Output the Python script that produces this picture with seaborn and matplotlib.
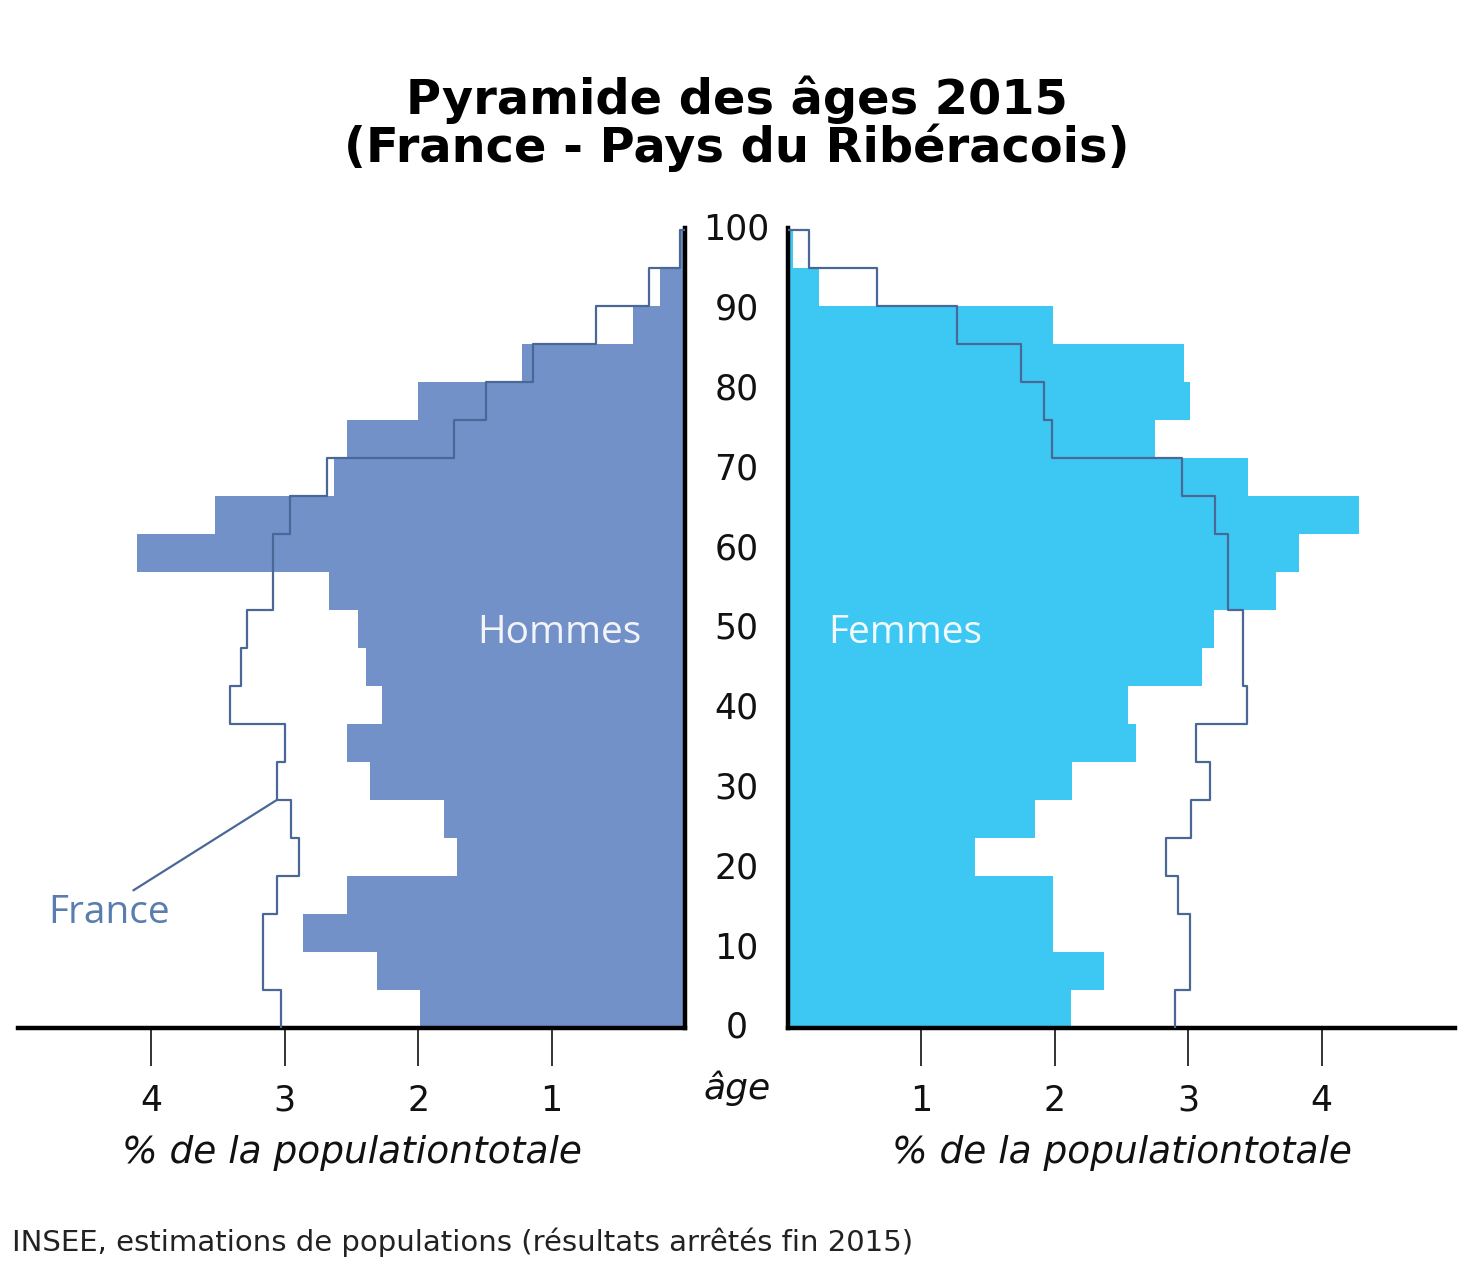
import numpy as np
import pandas as pd
import matplotlib
matplotlib.use("Agg")
import matplotlib.pyplot as plt
import seaborn as sns

# ---------------- data ----------------
age_groups = ["0-4", "5-9", "10-14", "15-19", "20-24", "25-29", "30-34", "35-39",
              "40-44", "45-49", "50-54", "55-59", "60-64", "65-69", "70-74",
              "75-79", "80-84", "85-89", "90-94", "95-99", "100+"]
hommes_riberacois = [1.99, 2.31, 2.86, 2.53, 1.71, 1.81, 2.36, 2.53, 2.27, 2.39, 2.45,
                     2.67, 4.11, 3.52, 2.63, 2.53, 2.00, 1.22, 0.39, 0.19, 0.04]
hommes_france = [3.03, 3.16, 3.16, 3.06, 2.89, 2.95, 3.06, 3.00, 3.41, 3.33, 3.28,
                 3.09, 3.09, 2.96, 2.68, 1.73, 1.49, 1.14, 0.67, 0.27, 0.04]
femmes_riberacois = [2.12, 2.37, 1.99, 1.99, 1.40, 1.85, 2.13, 2.61, 2.55, 3.10, 3.19,
                     3.66, 3.83, 4.28, 3.45, 2.75, 3.01, 2.97, 1.99, 0.23, 0.04]
femmes_france = [2.90, 3.01, 3.01, 2.92, 2.83, 3.02, 3.16, 3.06, 3.44, 3.41, 3.41,
                 3.30, 3.30, 3.20, 2.95, 1.98, 1.92, 1.75, 1.27, 0.67, 0.16]
age_ticks = [0, 10, 20, 30, 40, 50, 60, 70, 80, 90, 100]
pct_ticks = [1, 2, 3, 4]

# ---------------- style ----------------
sns.set_style("white")
plt.rcParams["font.family"] = ["DejaVu Sans"]

MEN = "#7291C9"
WOMEN = "#3CC8F2"
FR_LINE = "#4A6896"
FR_TEXT = "#5A7DB0"

W, H = 1464, 1261
fig = plt.figure(figsize=(W / 100, H / 100), dpi=100)
ax_l = fig.add_axes([18 / W, 1 - 1028 / H, 667 / W, 800 / H])
ax_r = fig.add_axes([788 / W, 1 - 1028 / H, 667 / W, 800 / H])

n = len(age_groups)
edges = np.arange(n + 1) - 0.5


def age_to_pos(a):
    return a * n / 100 - 0.5


def draw_side(ax, riberacois, france, color):
    df = pd.DataFrame({"groupe": age_groups, "pct": riberacois})
    sns.barplot(data=df, x="pct", y="groupe", order=age_groups, orient="h",
                color=color, saturation=1, width=1.0, linewidth=0, ax=ax)
    # France outline as a step line
    xs = np.concatenate([np.repeat(france, 2), [0.0]])
    ys = np.concatenate([np.column_stack([edges[:-1], edges[1:]]).ravel(), [edges[-1]]])
    line_df = pd.DataFrame({"x": xs, "y": ys})
    sns.lineplot(data=line_df, x="x", y="y", sort=False, estimator=None,
                 color=FR_LINE, lw=1.6, ax=ax, zorder=3)
    ax.set_ylim(edges[0], edges[-1] + 0.05)
    ax.set_xlabel("")
    ax.set_ylabel("")
    ax.set_xticks(pct_ticks)
    ax.set_xticklabels([str(t) for t in pct_ticks], fontsize=25)
    ax.tick_params(axis="x", direction="out", length=27, width=1.4,
                   color="#333333", pad=13, labelcolor="#111111", bottom=True)
    ax.set_yticks([])
    for s in ax.spines.values():
        s.set_visible(False)
    ax.spines["bottom"].set_visible(True)
    ax.spines["bottom"].set_linewidth(3.2)
    ax.spines["bottom"].set_color("black")
    ax.set_facecolor("none")


draw_side(ax_l, hommes_riberacois, hommes_france, MEN)
draw_side(ax_r, femmes_riberacois, femmes_france, WOMEN)

ax_l.set_xlim(5, 0)
ax_r.set_xlim(0, 5)
ax_l.spines["right"].set_visible(True)
ax_l.spines["right"].set_linewidth(3.2)
ax_l.spines["right"].set_color("black")
ax_r.spines["left"].set_visible(True)
ax_r.spines["left"].set_linewidth(3.2)
ax_r.spines["left"].set_color("black")

# age tick labels in the central column
ax_r.set_yticks([age_to_pos(a) for a in age_ticks])
ax_r.set_yticklabels([str(a) for a in age_ticks], fontsize=25, color="#111111")
ax_r.tick_params(axis="y", length=0, pad=37, left=True)
for lab in ax_r.get_yticklabels():
    lab.set_horizontalalignment("center")
    lab.set_verticalalignment("center")

# inner labels
ax_l.text(0.94, age_to_pos(49.5), "Hommes", color="#F2F4F8", fontsize=28,
          family="Open Sans", ha="center", va="center")
ax_r.text(0.88, age_to_pos(49.5), "Femmes", color="#F2F8FB", fontsize=28,
          family="Open Sans", ha="center", va="center")
ax_l.text(4.32, age_to_pos(14.4), "France", color=FR_TEXT, fontsize=28,
          family="Open Sans", ha="center", va="center")
ax_l.annotate("", xy=(hommes_france[6], 5.5), xytext=(4.135, age_to_pos(17.25)),
              arrowprops=dict(arrowstyle="-", color=FR_LINE, lw=1.6,
                              shrinkA=0, shrinkB=0))

# axis titles
fig.text(737 / W, 1 - 1088 / H, "âge", fontsize=26, style="italic",
         ha="center", va="center", color="#111111")
fig.text((18 + 685) / 2 / W, 1 - 1153 / H, "% de la populationtotale", fontsize=27,
         style="italic", ha="center", va="center", color="#111111")
fig.text((788 + 1455) / 2 / W, 1 - 1153 / H, "% de la populationtotale", fontsize=27,
         style="italic", ha="center", va="center", color="#111111")

# title
fig.text(737 / W, 1 - 124 / H, "Pyramide des âges 2015\n(France - Pays du Ribéracois)",
         fontsize=34.5, fontweight="bold", ha="center", va="center",
         linespacing=0.98, color="black")

# source
fig.text(12 / W, 1 - 1242 / H,
         "INSEE, estimations de populations (résultats arrêtés fin 2015)",
         fontsize=21, ha="left", va="center", color="#222222")

fig.savefig("out.png", dpi=100, facecolor="white")
